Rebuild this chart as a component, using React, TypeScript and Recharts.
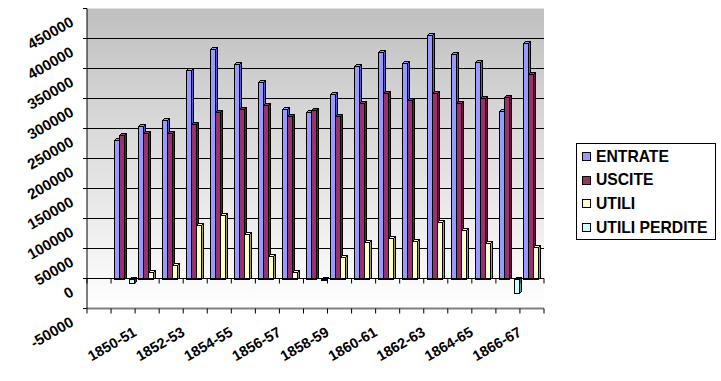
import React from 'react';
import { BarChart, Bar, XAxis, YAxis, CartesianGrid, ReferenceLine } from 'recharts';

const years = [
  '1850-51', '1851-52', '1852-53', '1853-54', '1854-55', '1855-56', '1856-57', '1857-58', '1858-59',
  '1859-60', '1860-61', '1861-62', '1862-63', '1863-64', '1864-65', '1865-66', '1866-67', '1867-68',
];
const entrate = [231000, 254000, 265000, 347000, 382000, 357000, 327000, 282000, 277000, 307000, 354000, 378000, 359000, 405000, 374000, 361000, 279000, 393000];
const uscite = [239000, 243000, 243000, 257000, 277000, 282000, 289000, 271000, 280000, 271000, 293000, 310000, 297000, 310000, 293000, 301000, 303000, 341000];
const utili = [null, 11000, 22000, 90000, 105000, 75000, 38000, 11000, null, 36000, 61000, 68000, 62000, 95000, 81000, 60000, null, 52000];
const utiliPerdite = [-8000, null, null, null, null, null, null, null, -3000, null, null, null, null, null, null, null, -24000, null];
const yTicks = [-50000, 0, 50000, 100000, 150000, 200000, 250000, 300000, 350000, 400000, 450000];

const series = [
  { key: 'entrate', name: 'ENTRATE', face: '#9999FF', side: '#5c5cb0' },
  { key: 'uscite', name: 'USCITE', face: '#993366', side: '#5a1e3c' },
  { key: 'utili', name: 'UTILI', face: '#FFFFCC', side: '#9a9a78' },
  { key: 'utiliPerdite', name: 'UTILI PERDITE', face: '#CCFFFF', side: '#789a9a' },
];

const data = years.map((year, i) => ({
  year,
  entrate: entrate[i],
  uscite: uscite[i],
  utili: utili[i],
  utiliPerdite: utiliPerdite[i],
}));

const Y_MIN = -50000;
const Y_MAX = 450000;
const PLOT_H = 300;
const BAND = 24.06;
const FONT = '"Liberation Sans", Arial, sans-serif';

function Bar3D(props: any) {
  const { face, side } = props;
  let { y, height } = props;
  if (height == null || !isFinite(height) || height === 0) return null;
  if (height < 0) {
    y = y + height;
    height = -height;
  }
  // snap to the pixel grid so the thin faces stay crisp
  const x = Math.round(props.x) + 0.5;
  const r = Math.round(props.x + props.width) + 0.5;
  const t = Math.round(y) + 0.5;
  const b = Math.round(y + height) + 0.5;
  const d = 2;
  return (
    <g stroke="#000" strokeWidth={1} shapeRendering="crispEdges">
      <polygon points={`${r},${t} ${r + d},${t - d} ${r + d},${b - d} ${r},${b}`} fill={side} />
      <polygon points={`${x},${t} ${x + d},${t - d} ${r + d},${t - d} ${r},${t}`} fill={face} />
      <rect x={x} y={t} width={r - x} height={Math.max(b - t, 1)} fill={face} />
    </g>
  );
}

function XTick(props: any) {
  const { x, y, index, payload } = props;
  // zero line sits above the floor edge
  const y0 = y - (PLOT_H * (0 - Y_MIN)) / (Y_MAX - Y_MIN);
  const bounds = [x - BAND / 2];
  if (index === 0) bounds.push(x - BAND * 1.5);
  if (index === years.length - 1) bounds.push(x + BAND / 2);
  return (
    <g>
      {bounds.map((bx) => (
        <g key={bx} stroke="#000" strokeWidth={1}>
          <line x1={bx} y1={y0} x2={bx} y2={y0 + 5} />
          <line x1={bx} y1={y} x2={bx} y2={y + 5} />
        </g>
      ))}
      {index % 2 === 0 && (
        <text
          x={x + 12}
          y={y + 22}
          dy="0.35em"
          textAnchor="end"
          transform={`rotate(-30, ${x + 12}, ${y + 22})`}
          fontFamily={FONT}
          fontWeight="bold"
          fontSize={14.5}
          fill="#000"
        >
          {payload.value}
        </text>
      )}
    </g>
  );
}

function YTick(props: any) {
  const { x, y, payload } = props;
  const ax = x - 11;
  const ay = y + 12;
  return (
    <text
      x={ax}
      y={ay}
      dy="0.35em"
      textAnchor="end"
      transform={`rotate(-30, ${ax}, ${ay})`}
      fontFamily={FONT}
      fontWeight="bold"
      fontSize={15}
      fill="#000"
    >
      {payload.value}
    </text>
  );
}

function LegendBox() {
  return (
    <div
      style={{
        position: 'absolute',
        left: 576,
        top: 143,
        width: 138,
        height: 95,
        border: '1px solid #000',
        background: '#fff',
        fontFamily: FONT,
        fontWeight: 'bold',
        fontSize: 15.7,
      }}
    >
      {series.map((s, i) => (
        <div
          key={s.key}
          style={{
            position: 'absolute',
            left: 5,
            top: 3.5 + i * 23.7,
            height: 18,
            display: 'flex',
            alignItems: 'center',
            whiteSpace: 'nowrap',
          }}
        >
          <span
            style={{
              display: 'inline-block',
              width: 7,
              height: 7,
              border: '1px solid #000',
              background: s.face,
              marginRight: 5,
            }}
          />
          <span>{s.name}</span>
        </div>
      ))}
    </div>
  );
}

export default function App() {
  return (
    <div style={{ position: 'absolute', left: 0, top: 0, width: 721, height: 381, background: '#fff' }}>
      <BarChart
        width={721}
        height={381}
        data={data}
        margin={{ top: 8.5, right: 177, bottom: 12.5, left: 0 }}
        barCategoryGap={2.8}
        barGap={0}
      >
        <defs>
          <linearGradient id="wall" x1="0" y1="0" x2="0" y2="1">
            <stop offset="0%" stopColor="#c0c0c0" />
            <stop offset="100%" stopColor="#ffffff" />
          </linearGradient>
        </defs>
        <CartesianGrid
          vertical={false}
          horizontalValues={[50000, 100000, 150000, 200000, 250000, 300000, 350000, 400000]}
          stroke="#000"
          strokeWidth={1.2}
          fill="url(#wall)"
          fillOpacity={1}
        />
        <XAxis
          dataKey="year"
          height={60}
          padding={{ left: BAND, right: 0 }}
          interval={0}
          tickLine={false}
          tickSize={0}
          tickMargin={0}
          axisLine={{ stroke: '#808080', strokeWidth: 2 }}
          tick={<XTick />}
        />
        <YAxis
          width={87}
          domain={[Y_MIN, Y_MAX]}
          ticks={yTicks}
          interval={0}
          tickSize={4}
          tickMargin={0}
          axisLine={{ stroke: '#000' }}
          tickLine={{ stroke: '#000' }}
          tick={<YTick />}
        />
        <ReferenceLine y={0} stroke="#000" strokeWidth={1.2} />
        {series.map((s) => (
          <Bar
            key={s.key}
            dataKey={s.key}
            name={s.name}
            fill={s.face}
            isAnimationActive={false}
            shape={(p: any) => <Bar3D {...p} face={s.face} side={s.side} />}
          />
        ))}
      </BarChart>
      <LegendBox />
    </div>
  );
}
